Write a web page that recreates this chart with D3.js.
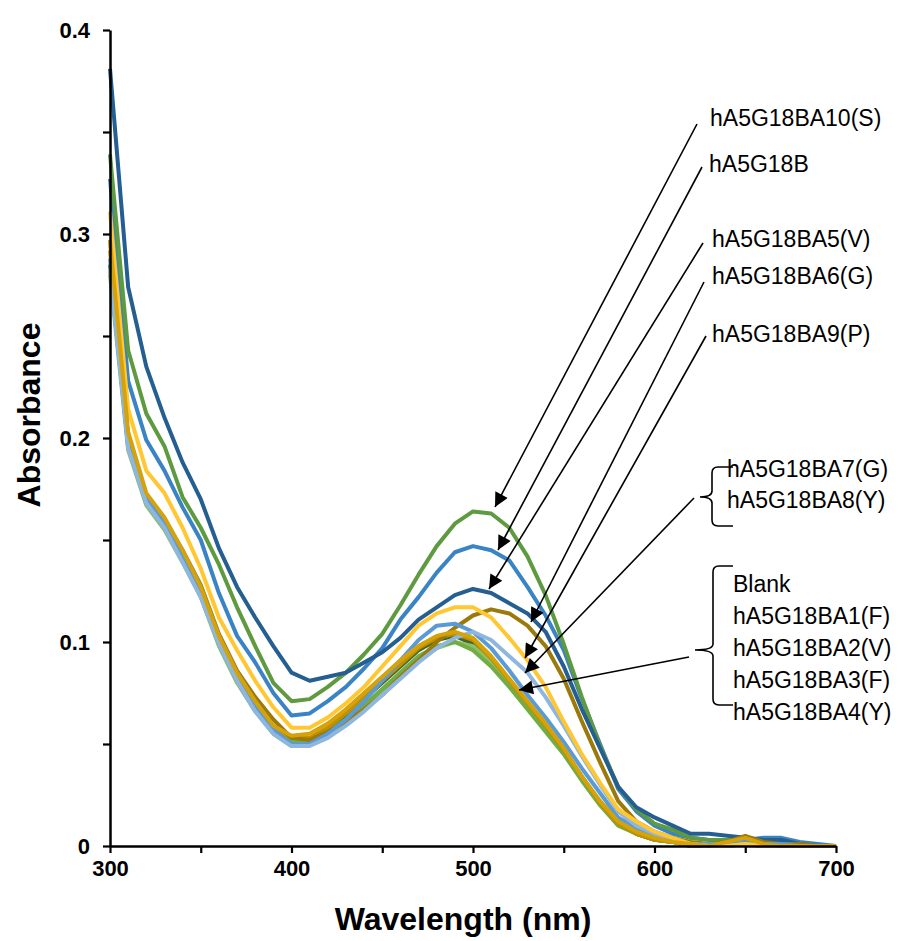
<!DOCTYPE html>
<html>
<head>
<meta charset="utf-8">
<script src="https://cdn.jsdelivr.net/npm/d3@7"></script>
<style>
  body { margin: 0; background: #fff; }
  text { font-family: "Liberation Sans", Arial, sans-serif; }
</style>
</head>
<body>
<div id="chart"></div>
<script>
///////////////////////////////////////////////////////////////////////////
//////////////////////////////// Data /////////////////////////////////////
///////////////////////////////////////////////////////////////////////////

var wavelengths = [300,310,320,330,340,350,360,370,380,390,400,410,420,430,440,450,460,470,480,490,
  500,510,520,530,540,550,560,570,580,590,600,610,620,630,640,650,660,670,680,690,700];

var hA5G18B = [.327,.228,.199,.184,.166,.150,.124,.103,.090,.075,.064,.065,.071,.078,.087,.097,.111,.122,.134,.144,
  .147,.145,.140,.127,.113,.096,.072,.050,.028,.017,.010,.006,.004,.003,.003,.003,.004,.004,.002,.001,.000];
var BA10 = [.339,.243,.212,.196,.171,.156,.138,.117,.098,.080,.071,.072,.078,.085,.094,.104,.118,.133,.147,.158,
  .164,.163,.156,.142,.123,.099,.073,.049,.029,.018,.011,.008,.004,.003,.003,.003,.002,.002,.001,.000,.000];
var BA5 = [.381,.274,.235,.210,.188,.170,.146,.127,.112,.098,.085,.081,.083,.085,.090,.095,.102,.111,.117,.123,
  .126,.124,.119,.114,.105,.088,.067,.048,.029,.019,.014,.010,.006,.006,.005,.004,.003,.003,.001,.000,.000];
var blank = [.285,.197,.169,.157,.141,.124,.100,.083,.069,.058,.052,.052,.057,.064,.072,.080,.088,.096,.101,.103,
  .099,.090,.080,.069,.058,.047,.033,.021,.011,.006,.003,.002,.000,.000,.001,.002,.001,.000,.000,.000,.000];
var BA2 = [.280,.194,.167,.155,.139,.122,.098,.080,.066,.055,.049,.050,.054,.060,.067,.075,.083,.091,.097,.100,
  .098,.090,.080,.069,.058,.047,.034,.022,.012,.007,.004,.002,.001,.000,.000,.001,.000,.000,.000,.000,.000];
var BA3 = [.283,.196,.168,.156,.140,.123,.099,.081,.067,.056,.051,.051,.056,.062,.069,.077,.085,.093,.098,.100,
  .096,.088,.078,.067,.056,.045,.032,.020,.010,.006,.003,.002,.000,.000,.000,.001,.000,.000,.000,.000,.000];
var BA4 = [.292,.200,.171,.159,.143,.126,.102,.084,.070,.058,.053,.053,.058,.065,.073,.081,.089,.097,.102,.104,
  .101,.092,.081,.070,.059,.047,.034,.021,.011,.006,.003,.002,.000,.000,.002,.004,.001,.000,.000,.000,.000];
var BA6 = [.297,.200,.172,.160,.145,.128,.104,.086,.073,.062,.053,.052,.056,.061,.067,.074,.083,.091,.100,.107,
  .113,.116,.114,.108,.098,.082,.061,.041,.022,.012,.007,.004,.002,.001,.002,.005,.002,.001,.001,.000,.000];
var BA7 = [.288,.196,.170,.158,.142,.126,.101,.083,.069,.057,.050,.050,.055,.062,.071,.081,.091,.101,.108,.109,
  .105,.097,.086,.074,.063,.051,.038,.026,.014,.009,.005,.003,.001,.001,.001,.002,.001,.001,.000,.000,.000];
var BA8 = [.283,.195,.168,.156,.139,.122,.099,.081,.066,.055,.049,.049,.053,.059,.066,.074,.082,.090,.097,.102,
  .105,.101,.093,.085,.073,.059,.044,.030,.017,.010,.006,.003,.001,.000,.000,.001,.000,.000,.000,.000,.000];
var BA9 = [.311,.214,.184,.173,.156,.136,.112,.096,.081,.068,.058,.058,.063,.070,.078,.088,.098,.108,.114,.117,
  .117,.112,.102,.091,.078,.061,.045,.031,.018,.012,.007,.004,.001,.000,.000,.001,.000,.000,.000,.000,.000];
var BA1 = [.297,.203,.173,.161,.145,.127,.103,.085,.071,.059,.054,.055,.060,.067,.075,.083,.091,.098,.103,.105,
  .102,.093,.082,.071,.060,.048,.034,.022,.012,.007,.004,.002,.001,.000,.002,.004,.001,.000,.000,.000,.000];

// drawing order: later series sit on top
var seriesNames = ["hA5G18B","hA5G18BA10(S)","hA5G18BA5(V)","Blank","hA5G18BA2(V)","hA5G18BA3(F)",
  "hA5G18BA4(Y)","hA5G18BA6(G)","hA5G18BA7(G)","hA5G18BA8(Y)","hA5G18BA9(P)","hA5G18BA1(F)"];
var seriesValues = [hA5G18B, BA10, BA5, blank, BA2, BA3, BA4, BA6, BA7, BA8, BA9, BA1];
var seriesColors = ["#3a84c6","#5e9a3f","#255e91","#43682b","#8cc168","#70ad47",
  "#bf9000","#9b7a0c","#5b9bd5","#8fb6df","#ffc732","#d6a20a"];

var xTicks = [300,350,400,450,500,550,600,650,700];
var xTickLabels = [300,400,500,600,700];
var yTicks = [0,0.05,0.1,0.15,0.2,0.25,0.3,0.35,0.4];
var yTickLabels = [0,0.1,0.2,0.3,0.4];

// annotation labels
var arrowLabels = ["hA5G18BA10(S)","hA5G18B","hA5G18BA5(V)","hA5G18BA6(G)","hA5G18BA9(P)"];
var groupA = ["hA5G18BA7(G)","hA5G18BA8(Y)"];
var groupB = ["Blank","hA5G18BA1(F)","hA5G18BA2(V)","hA5G18BA3(F)","hA5G18BA4(Y)"];

///////////////////////////////////////////////////////////////////////////
//////////////////// Set up and initiate svg containers ///////////////////
///////////////////////////////////////////////////////////////////////////

var width = 907;
var height = 941;
var plotLeft = 110, plotRight = 836, plotTop = 30, plotBottom = 846;

var svg = d3.select("#chart")
  .append("svg")
  .attr("width", width)
  .attr("height", height);

var x = d3.scaleLinear().domain([300, 700]).range([plotLeft, plotRight]);
var y = d3.scaleLinear().domain([0, 0.4]).range([plotBottom, plotTop]);

var defs = svg.append("defs");
defs.append("marker")
  .attr("id", "arrowHead")
  .attr("viewBox", "0 0 10 10")
  .attr("refX", 10)
  .attr("refY", 5)
  .attr("markerUnits", "userSpaceOnUse")
  .attr("markerWidth", 17)
  .attr("markerHeight", 14)
  .attr("orient", "auto")
  .append("path")
  .attr("d", "M0,0 L10,5 L0,10 Z")
  .attr("fill", "#000");

///////////////////////////////////////////////////////////////////////////
/////////////////////////////// Lines /////////////////////////////////////
///////////////////////////////////////////////////////////////////////////

var line = d3.line()
  .x(function(d, i) { return x(wavelengths[i]); })
  .y(function(d) { return y(d); });

svg.append("g")
  .selectAll("path")
  .data(seriesValues)
  .enter().append("path")
  .attr("d", line)
  .attr("fill", "none")
  .attr("stroke", function(d, i) { return seriesColors[i]; })
  .attr("stroke-width", 4)
  .attr("stroke-linejoin", "round");

///////////////////////////////////////////////////////////////////////////
/////////////////////////////// Axes //////////////////////////////////////
///////////////////////////////////////////////////////////////////////////

var xAxis = svg.append("g")
  .attr("transform", "translate(0," + plotBottom + ")")
  .call(d3.axisBottom(x).tickValues(xTicks).tickSize(7).tickSizeOuter(0)
    .tickFormat(function(d) { return xTickLabels.indexOf(d) >= 0 ? d : ""; }));

var yAxis = svg.append("g")
  .attr("transform", "translate(" + plotLeft + ",0)")
  .call(d3.axisLeft(y).tickValues(yTicks).tickSize(7).tickSizeOuter(0)
    .tickFormat(function(d) {
      return yTickLabels.some(function(v) { return Math.abs(v - d) < 1e-9; }) ? (d === 0 ? "0" : d3.format(".1f")(d)) : "";
    }));

[xAxis, yAxis].forEach(function(a) {
  a.select(".domain").attr("stroke", "#000").attr("stroke-width", 2.5);
  a.selectAll(".tick line").attr("stroke", "#000").attr("stroke-width", 2.2);
  a.selectAll(".tick text")
    .attr("fill", "#000")
    .style("font-family", "'Liberation Sans', Arial, sans-serif")
    .style("font-size", "22px")
    .style("font-weight", "bold");
});
xAxis.selectAll(".tick text").attr("dy", "0.71em").attr("y", 14);
yAxis.selectAll(".tick text").attr("x", -20);

svg.append("text")
  .attr("x", (plotLeft + plotRight) / 2 - 10)
  .attr("y", 930)
  .attr("text-anchor", "middle")
  .style("font-size", "32px")
  .style("font-weight", "bold")
  .text("Wavelength (nm)");

svg.append("text")
  .attr("transform", "translate(40," + 415 + ") rotate(-90)")
  .attr("text-anchor", "middle")
  .style("font-size", "32px")
  .style("font-weight", "bold")
  .text("Absorbance");

///////////////////////////////////////////////////////////////////////////
//////////////////////////// Annotations //////////////////////////////////
///////////////////////////////////////////////////////////////////////////

var ann = svg.append("g");
var labelFont = "23px";

// single labels with an arrow from the text to the curve
var labelPos = [[710, 126], [709, 172], [712, 247], [712, 284], [712, 342]];
var arrowStart = [[697, 124], [702, 167], [703, 243], [704, 282], [706, 336]];
var arrowTip = [[495, 507], [498, 550], [489, 589], [531, 622], [525, 658]];

arrowLabels.forEach(function(t, i) {
  ann.append("text")
    .attr("x", labelPos[i][0])
    .attr("y", labelPos[i][1])
    .style("font-size", labelFont)
    .text(t);
  ann.append("line")
    .attr("x1", arrowStart[i][0]).attr("y1", arrowStart[i][1])
    .attr("x2", arrowTip[i][0]).attr("y2", arrowTip[i][1])
    .attr("stroke", "#000")
    .attr("stroke-width", 1.6)
    .attr("marker-end", "url(#arrowHead)");
});

// left braces around the grouped labels
function brace(xr, xv, xp, y0, yMid, y1) {
  var r = 6;
  return "M" + xr + "," + y0 +
    " L" + (xv + r) + "," + y0 +
    " Q" + xv + "," + y0 + " " + xv + "," + (y0 + r) +
    " L" + xv + "," + (yMid - r) +
    " Q" + xv + "," + yMid + " " + xp + "," + yMid +
    " Q" + xv + "," + yMid + " " + xv + "," + (yMid + r) +
    " L" + xv + "," + (y1 - r) +
    " Q" + xv + "," + y1 + " " + (xv + r) + "," + y1 +
    " L" + xr + "," + y1;
}

groupA.forEach(function(t, i) {
  ann.append("text")
    .attr("x", 727)
    .attr("y", 477 + i * 31)
    .style("font-size", labelFont)
    .text(t);
});
ann.append("path")
  .attr("d", brace(733, 712, 700, 467, 497, 526))
  .attr("fill", "none").attr("stroke", "#000").attr("stroke-width", 1.6);
ann.append("line")
  .attr("x1", 694).attr("y1", 498)
  .attr("x2", 525).attr("y2", 673)
  .attr("stroke", "#000").attr("stroke-width", 1.6)
  .attr("marker-end", "url(#arrowHead)");

groupB.forEach(function(t, i) {
  ann.append("text")
    .attr("x", 733)
    .attr("y", 592 + i * 32)
    .style("font-size", labelFont)
    .text(t);
});
ann.append("path")
  .attr("d", brace(733, 713, 695, 566, 650, 705))
  .attr("fill", "none").attr("stroke", "#000").attr("stroke-width", 1.6);
ann.append("line")
  .attr("x1", 689).attr("y1", 657)
  .attr("x2", 519).attr("y2", 690)
  .attr("stroke", "#000").attr("stroke-width", 1.6)
  .attr("marker-end", "url(#arrowHead)");
</script>
</body>
</html>
